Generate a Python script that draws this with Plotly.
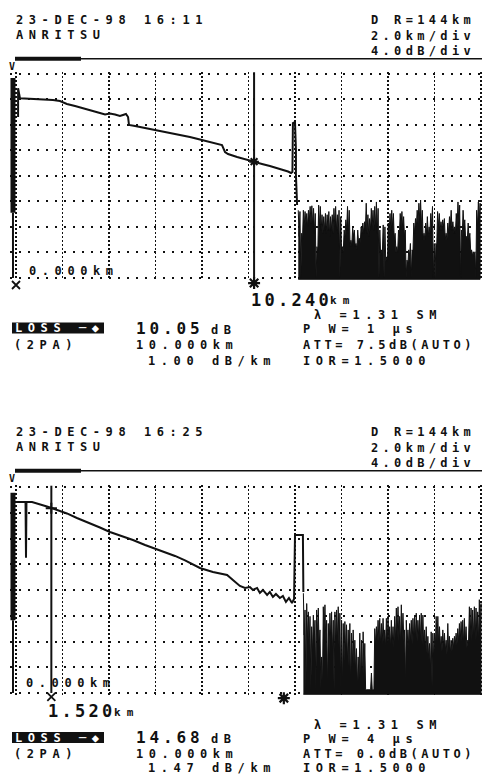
import numpy as np
import plotly.graph_objects as go

# ======================= DATA =======================
# distance axis (km) and relative level axis (dB): 2.0 km/div, 4.0 dB/div
grid_km = [0, 2, 4, 6, 8, 10, 12, 14, 16, 18, 20]
grid_db = [0, -4, -8, -12, -16, -20, -24, -28, -32]

# ---- upper trace (23-DEC-98 16:11) ----
top_trace_km = [0.09, 0.09, 0.17, 0.82, 1.59, 1.89, 2.19, 2.54, 2.88, 3.27, 3.61, 3.83,
                4.04, 4.26, 4.47, 4.60, 4.73, 4.82, 4.86, 5.12, 5.33, 5.76, 6.19, 6.62,
                7.05, 7.48, 7.91, 8.34, 8.69, 8.86, 8.99, 9.12, 9.51, 9.85, 10.19, 10.58,
                10.92, 11.23, 11.48, 11.70, 11.83, 11.89, 11.91, 12.00, 12.04, 12.04, 12.09]
top_trace_db = [-6.8, -2.3, -3.88, -3.99, -4.15, -4.30, -4.77, -5.09, -5.40, -5.79, -6.18, -6.42,
                -6.26, -6.42, -6.65, -6.49, -6.34, -6.81, -8.06, -8.22, -8.37, -8.69, -9.00, -9.31,
                -9.62, -9.94, -10.33, -10.72, -11.03, -11.19, -12.28, -12.60, -13.07, -13.38, -13.77, -14.16,
                -14.48, -14.79, -15.10, -15.34, -15.57, -15.41, -7.75, -7.59, -11.97, -15.88, -20.58]
top_noise_km = [12.14, 19.96]
top_noise_peak_db = [
    -21.4, -21.6, -25.0, -21.4, -21.6, -21.9, -21.4, -20.8, -20.7, -21.1,
    -21.9, -27.1, -20.6, -20.8, -22.1, -22.4, -21.9, -22.1, -21.6, -22.4,
    -22.1, -21.1, -20.8, -22.1, -21.4, -22.4, -27.1, -24.5, -22.9, -20.8,
    -21.4, -26.1, -24.2, -24.5, -26.6, -24.5, -25.8, -24.0, -23.4, -23.2,
    -20.3, -22.1, -22.7, -21.1, -21.4, -20.8, -20.1, -21.1, -24.5, -27.6,
    -23.7, -24.0, -28.7, -23.4, -21.9, -21.4, -21.9, -25.0, -27.1, -24.5,
    -21.9, -21.6, -22.4, -24.5, -29.2, -27.6, -26.6, -27.6, -23.4, -22.7,
    -21.4, -20.3, -19.8, -21.4, -25.0, -23.4, -22.4, -24.0, -21.9, -20.8,
    -26.6, -26.6, -21.6, -21.9, -23.2, -22.9, -22.7, -25.0, -23.4, -22.4,
    -21.4, -23.2, -24.0, -21.9, -20.1, -20.6, -24.5, -21.4, -22.9, -25.5,
    -23.4, -25.0, -27.6, -27.9, -27.9, -21.4, -20.1, -20.3]
top_noise_valley_db = [
    -25.5, -32.0, -26.0, -24.0, -23.5, -24.0, -23.0, -23.5, -24.0, -25.0,
    -32.0, -28.0, -24.0, -24.5, -25.0, -24.5, -25.0, -24.5, -25.5, -24.5,
    -25.0, -24.0, -24.5, -25.0, -32.0, -28.0, -28.0, -25.5, -24.5, -25.0,
    -27.0, -27.0, -25.5, -27.0, -27.5, -26.5, -26.5, -25.0, -25.0, -24.5,
    -25.0, -25.5, -24.5, -24.0, -24.5, -24.0, -25.0, -32.0, -28.5, -28.0,
    -32.0, -29.5, -29.5, -25.0, -24.5, -24.0, -26.0, -28.0, -28.0, -25.5,
    -24.0, -24.5, -25.5, -32.0, -30.0, -28.5, -32.0, -28.0, -25.0, -24.0,
    -23.5, -23.0, -24.0, -26.0, -26.0, -25.0, -25.5, -25.0, -24.0, -32.0,
    -32.0, -27.0, -24.0, -24.5, -24.5, -24.0, -26.0, -26.0, -25.0, -24.0,
    -24.5, -25.0, -25.0, -24.0, -23.5, -32.0, -25.5, -24.0, -26.0, -26.0,
    -26.0, -28.0, -28.5, -28.5, -32.0, -24.0, -23.5]
top_launch_km = -0.13
top_launch_thick_db = [-0.7, -21.8]
top_launch_thin_db = [-21.8, -32.0]
top_cursor_x_km = 0.0
top_cursor_star_km = 10.24
top_cursor_star_db = -13.8
top_marker_db = [-33.1, -32.8]

# ---- lower trace (23-DEC-98 16:25) ----
bot_trace_km = [0.0, 0.41, 0.43, 0.45, 0.69, 1.03, 1.33, 1.59, 1.89, 2.19, 2.62, 3.05,
                3.61, 4.04, 4.47, 5.03, 5.55, 6.06, 6.41, 6.84, 7.27, 7.70, 7.91, 8.47,
                9.08, 9.33, 9.63, 9.85, 10.06, 10.19, 10.37, 10.49, 10.62, 10.80, 10.92, 11.05,
                11.18, 11.35, 11.48, 11.61, 11.74, 11.87, 11.96, 12.00, 12.34, 12.36]
bot_trace_db = [-2.33, -2.33, -11.0, -2.33, -2.33, -2.64, -3.03, -3.34, -3.73, -4.11, -4.81, -5.43,
                -6.29, -6.99, -7.53, -8.23, -9.01, -9.70, -10.09, -10.71, -11.41, -12.11, -12.58, -13.20,
                -13.66, -14.44, -15.37, -15.68, -15.53, -15.99, -15.68, -16.46, -15.99, -16.77, -16.30, -17.08,
                -16.61, -17.24, -16.93, -17.86, -17.24, -18.01, -17.39, -7.45, -7.45, -16.3]
bot_noise_km = [12.36, 20.0]
bot_noise_peak_db = [
    -16.5, -19.1, -18.1, -19.4, -20.1, -21.7, -19.9, -20.7, -19.1, -18.8,
    -22.2, -26.4, -18.6, -18.3, -20.7, -21.2, -19.6, -19.4, -20.7, -19.4,
    -19.1, -18.6, -19.6, -20.7, -21.2, -20.9, -21.4, -22.2, -21.2, -22.7,
    -22.2, -23.8, -25.1, -26.4, -22.7, -23.8, -22.5, -24.3, -31.5, -31.5,
    -31.5, -28.9, -31.5, -22.0, -21.7, -20.7, -20.4, -21.2, -20.4, -22.2,
    -20.4, -20.1, -21.7, -20.7, -21.7, -20.1, -18.8, -18.6, -20.1, -18.3,
    -19.6, -22.2, -20.7, -22.2, -21.2, -20.7, -20.4, -19.9, -19.6, -20.7,
    -19.9, -19.6, -19.9, -22.2, -21.7, -23.2, -24.3, -22.5, -22.7, -22.7,
    -20.1, -20.1, -21.7, -23.2, -22.2, -22.7, -23.8, -21.2, -23.2, -23.8,
    -23.5, -23.2, -22.7, -22.0, -21.2, -20.9, -20.7, -20.4, -21.7, -23.8,
    -18.6, -18.8, -19.1, -18.6, -18.8, -19.4, -17.5, -18.1]
bot_noise_valley_db = [
    -23.0, -31.5, -24.0, -25.0, -31.5, -26.0, -24.0, -31.5, -23.0, -25.0,
    -31.5, -31.5, -22.5, -24.0, -31.5, -26.0, -24.0, -26.0, -31.5, -25.0,
    -24.0, -25.0, -31.5, -31.5, -27.0, -26.0, -27.5, -28.0, -31.5, -28.0,
    -27.5, -29.0, -31.5, -30.0, -30.5, -31.0, -29.0, -31.5, -31.5, -31.5,
    -31.5, -31.5, -31.5, -24.5, -24.0, -24.0, -24.5, -24.5, -24.0, -25.0,
    -24.5, -24.0, -25.0, -24.5, -25.0, -24.0, -23.5, -24.0, -24.5, -23.5,
    -24.0, -31.0, -24.5, -25.0, -24.0, -24.5, -24.0, -23.5, -24.0, -23.5,
    -24.0, -24.5, -25.0, -25.5, -26.0, -27.0, -29.0, -31.0, -27.0, -25.0,
    -24.0, -24.5, -25.0, -25.5, -25.0, -25.5, -26.0, -25.5, -26.0, -25.5,
    -25.0, -24.5, -24.5, -24.0, -24.0, -24.0, -24.5, -24.5, -25.0, -24.0,
    -23.5, -24.0, -23.5, -24.0, -23.5, -24.0, -23.5]
bot_launch_km = -0.13
bot_launch_thick_db = [-0.9, -20.7]
bot_launch_thin_db = [-20.7, -32.0]
bot_cursor_x_km = 1.52
bot_cursor_x_db = -3.3
bot_cursor_star_km = 11.52
bot_marker_db = [-32.6, -32.8]

noise_floor_db = -32.2

# ======================= FIGURE =======================
W, H = 486, 780
INK = "#111111"
FONT = "DejaVu Sans Mono"


def px(x):
    return x / W


def py(y):
    return 1 - y / H


def noise_xy(span, peaks, valleys):
    xs = np.linspace(span[0], span[1], len(peaks))
    X, Y = [], []
    for i, p in enumerate(peaks):
        X.append(xs[i]); Y.append(p)
        if i < len(valleys):
            X.append((xs[i] + xs[i + 1]) / 2); Y.append(valleys[i])
    X += [xs[-1], xs[0]]
    Y += [noise_floor_db, noise_floor_db]
    return X, Y


fig = go.Figure()


def add_panel(xa, ya, xm, ym, trace_km, trace_db, noise_span, peaks, valleys,
              launch_km, thick_db, thin_db, line_km, x_km, star_km, marker_db,
              cross_km, cross_db, cross_symbol):
    kw = dict(xaxis=xa, yaxis=ya, showlegend=False, hoverinfo="skip")
    km = dict(xaxis=xm, yaxis=ym, showlegend=False, hoverinfo="skip")
    nx, ny = noise_xy(noise_span, peaks, valleys)
    fig.add_trace(go.Scatter(x=nx, y=ny, mode="lines", fill="toself", fillcolor=INK,
                             line=dict(color=INK, width=1), **kw))
    fig.add_trace(go.Scatter(x=trace_km, y=trace_db, mode="lines",
                             line=dict(color=INK, width=2), **kw))
    fig.add_trace(go.Scatter(x=[launch_km, launch_km], y=thick_db, mode="lines",
                             line=dict(color=INK, width=5), **kw))
    fig.add_trace(go.Scatter(x=[launch_km, launch_km], y=thin_db, mode="lines",
                             line=dict(color=INK, width=2), **kw))
    fig.add_trace(go.Scatter(x=[line_km, line_km], y=[grid_db[0] + 0.2, grid_db[-1]], mode="lines",
                             line=dict(color=INK, width=2), **kw))
    fig.add_trace(go.Scatter(x=[cross_km], y=[cross_db], mode="markers", cliponaxis=False,
                             marker=dict(symbol=cross_symbol, size=8, color=INK,
                                         line=dict(color=INK, width=2)), **kw))
    # cursor symbols printed just under the grid
    fig.add_trace(go.Scatter(x=[x_km], y=[marker_db[0]], mode="markers",
                             marker=dict(symbol="x-thin-open", size=8, color=INK,
                                         line=dict(color=INK, width=1.8)), **km))
    fig.add_trace(go.Scatter(x=[star_km], y=[marker_db[1]], mode="markers",
                             marker=dict(symbol="asterisk-open", size=10, color=INK,
                                         line=dict(color=INK, width=2.2)), **km))


add_panel("x", "y", "x3", "y3", top_trace_km, top_trace_db, top_noise_km, top_noise_peak_db,
          top_noise_valley_db, top_launch_km, top_launch_thick_db, top_launch_thin_db,
          top_cursor_star_km, top_cursor_x_km, top_cursor_star_km, top_marker_db,
          top_cursor_star_km, top_cursor_star_db, "asterisk-open")
add_panel("x2", "y2", "x4", "y4", bot_trace_km, bot_trace_db, bot_noise_km, bot_noise_peak_db,
          bot_noise_valley_db, bot_launch_km, bot_launch_thick_db, bot_launch_thin_db,
          bot_cursor_x_km, bot_cursor_x_km, bot_cursor_star_km, bot_marker_db,
          bot_cursor_x_km, bot_cursor_x_db, "cross-thin-open")

xrange = [(10 - 16) / 23.25, (483 - 16) / 23.25]
xax = dict(range=xrange, domain=[px(10), px(483)], tickvals=grid_km, showticklabels=False,
           showgrid=True, gridcolor=INK, gridwidth=1.5, griddash="2px,2px",
           zeroline=False, showline=False, ticks="", fixedrange=True)
yax = dict(tickvals=grid_db, showticklabels=False, showgrid=True, gridcolor=INK,
           gridwidth=2, griddash="2px,7px", zeroline=False, showline=False, ticks="", fixedrange=True)
hidden = dict(visible=False, showgrid=False, zeroline=False, fixedrange=True)

# annotations ---------------------------------------------------------------
ann = []


def txt(x, y, s, size=12, color=INK):
    ann.append(dict(x=px(x), y=py(y), xref="paper", yref="paper", text=s, showarrow=False,
                    xanchor="left", yanchor="middle", align="left", borderpad=0,
                    font=dict(family=FONT, size=size, color=color, weight="bold")))


shapes = []


def hline(x0, x1, y, w):
    shapes.append(dict(type="line", xref="paper", yref="paper", x0=px(x0), x1=px(x1),
                       y0=py(y), y1=py(y), line=dict(color=INK, width=w)))


def box(x0, x1, y0, y1):
    shapes.append(dict(type="rect", xref="paper", yref="paper", x0=px(x0), x1=px(x1),
                       y0=py(y1), y1=py(y0), fillcolor=INK, line=dict(width=0), layer="below"))


panels = [
    dict(off=0, stamp="23-DEC-98 16:11", loss="10.05", pw="1", att="7.5", slope="1.00",
         zero_x=28, big="10.240", big_x=250, big_y=299.5, rows=(314.5, 328, 345, 361)),
    dict(off=412, stamp="23-DEC-98 16:25", loss="14.68", pw="4", att="0.0", slope="1.47",
         zero_x=25, big="1.520", big_x=47, big_y=711, rows=(725, 737.5, 753.5, 767.5)),
]
for p in panels:
    off = p["off"]
    txt(15, 19.5 + off, p["stamp"])
    txt(15, 35.5 + off, "ANRITSU")
    txt(370, 19.5 + off, "D R=144km")
    txt(370, 36 + off, "2.0km/div")
    txt(370, 51 + off, "4.0dB/div")
    hline(15, 482, 58.8 + off, 1.6)
    hline(15, 81, 58.8 + off, 4)
    txt(8, 66 + off, "V", size=10)
    txt(p["zero_x"], 270.5 + off, "0.000km")
    txt(p["big_x"], p["big_y"], p["big"], size=17)
    txt(p["big_x"] + len(p["big"]) * 13.5 - 2, p["big_y"] + 1.5, "km", size=11)
    r0, r1, r2, r3 = p["rows"]
    txt(313, r0, "λ =1.31 SM")
    box(12, 104, r1 - 5.5, r1 + 5.5)
    txt(14, r1, "LOSS ─◆", color="white")
    txt(135, r1, p["loss"], size=16)
    txt(210, r1 + 1.5, "dB")
    txt(302, r1 + 1, "P W= " + p["pw"] + " μs")
    txt(13, r2, "(2PA)")
    txt(135, r2, "10.000km")
    txt(302, r2, "ATT= " + p["att"] + "dB(AUTO)")
    txt(147, r3, p["slope"] + " dB/km")
    txt(302, r3, "IOR=1.5000")

fig.update_layout(
    width=W, height=H, margin=dict(l=0, r=0, t=0, b=0),
    paper_bgcolor="white", plot_bgcolor="rgba(0,0,0,0)", showlegend=False,
    xaxis=dict(xax, anchor="y"),
    yaxis=dict(yax, anchor="x", domain=[py(280), py(71.5)],
               range=[-(280 - 73.5) / 6.39, (73.5 - 71.5) / 6.39]),
    xaxis2=dict(xax, anchor="y2"),
    yaxis2=dict(yax, anchor="x2", domain=[py(695), py(485)],
                range=[-(695 - 487) / 6.4375, 2 / 6.4375]),
    xaxis3=dict(hidden, anchor="y3", domain=[px(10), px(483)], range=xrange),
    yaxis3=dict(hidden, anchor="x3", domain=[py(292), py(60)],
                range=[-(292 - 73.5) / 6.39, (73.5 - 60) / 6.39]),
    xaxis4=dict(hidden, anchor="y4", domain=[px(10), px(483)], range=xrange),
    yaxis4=dict(hidden, anchor="x4", domain=[py(707), py(475)],
                range=[-(707 - 487) / 6.4375, (487 - 475) / 6.4375]),
    annotations=ann, shapes=shapes,
)

# widen the dot-matrix lettering to the printer's character pitch
post = """
var gd = document.getElementById('{plot_id}');
gd.querySelectorAll('.annotation-text').forEach(function(t){
  var fs = parseFloat(t.style.fontSize) || 12;
  var pitch = fs >= 15 ? 13.5 : 12.8;
  var n = t.textContent.length;
  var ls = pitch - 0.602 * fs;
  t.style.letterSpacing = ls + 'px';
  var r = t.getBoundingClientRect();
  if (r.right > 484) { ls -= (r.right - 483) / n; t.style.letterSpacing = ls + 'px'; }
});
"""
fig.write_html("out.html", post_script=post, config={"staticPlot": True})
